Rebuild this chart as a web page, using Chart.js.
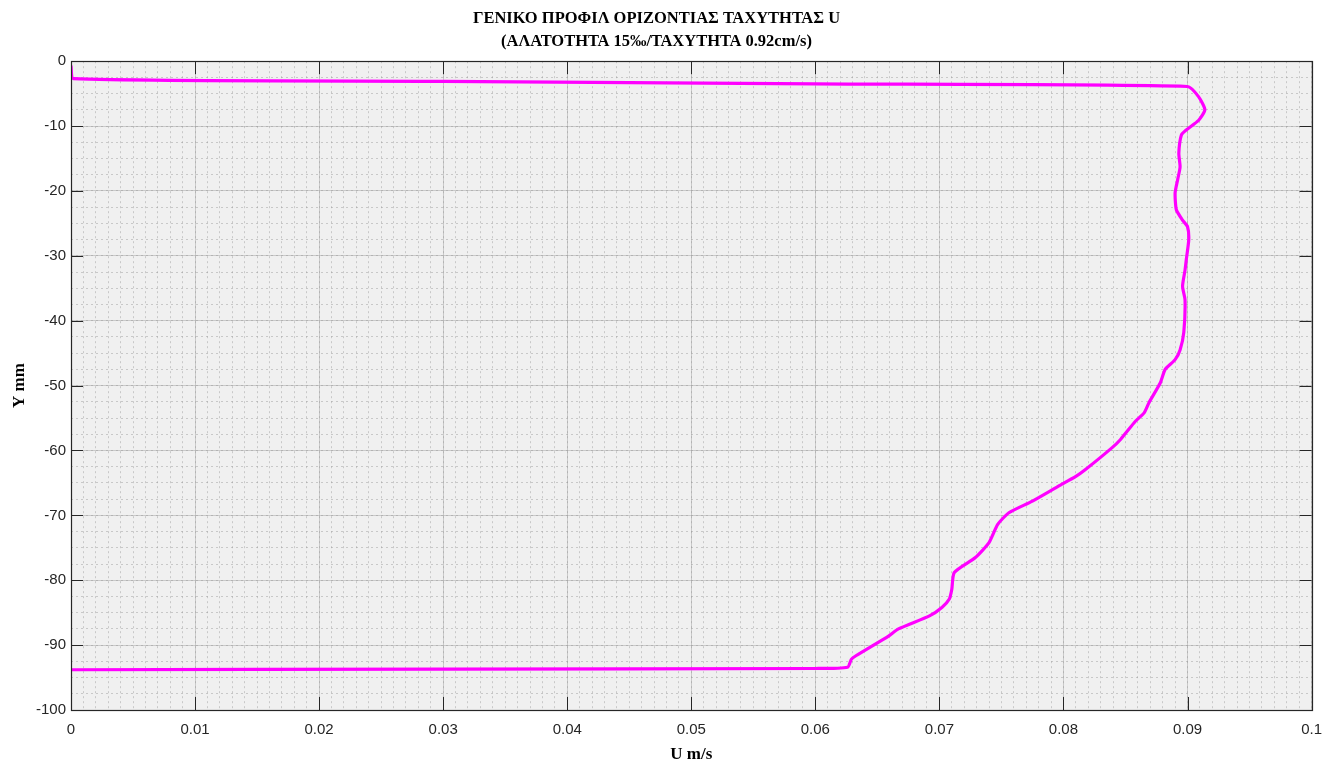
<!DOCTYPE html>
<html>
<head>
<meta charset="utf-8">
<script src="https://cdn.jsdelivr.net/npm/chart.js@4/dist/chart.umd.min.js"></script>
<style>
  html, body { margin: 0; padding: 0; background: #ffffff; }
  #wrap { width: 1333px; height: 767px; }
</style>
</head>
<body>
<div id="wrap"><canvas id="c" width="1333" height="767"></canvas></div>
<script>
// Horizontal velocity profile U (m/s) against depth Y (mm)
const uValues = [
  0.0000, 0.0002, 0.0300, 0.0600, 0.0900, 0.0909, 0.0914, 0.0909, 0.0899, 0.0895,
  0.0893, 0.0894, 0.0892, 0.0890, 0.0891, 0.0896, 0.0900, 0.0901, 0.0899, 0.0898,
  0.0896, 0.0898, 0.0897, 0.0894, 0.0890, 0.0882, 0.0878, 0.0869, 0.0865, 0.0858,
  0.0846, 0.0839, 0.0818, 0.0810, 0.0796, 0.0775, 0.0756, 0.0747, 0.0740, 0.0729,
  0.0712, 0.0710, 0.0708, 0.0702, 0.0692, 0.0667, 0.0659, 0.0633, 0.0629, 0.0626,
  0.0600, 0.0300, 0.0000
];
const yValues = [
  -0.8, -2.7, -3.1, -3.5, -3.9, -5.5, -7.5, -9.1, -10.6, -11.4,
  -14.2, -16.3, -18.3, -20.3, -22.9, -24.5, -25.5, -27.5, -30.6, -32.2,
  -34.7, -36.8, -41.8, -44.5, -46.0, -47.5, -49.6, -52.6, -54.2, -55.5,
  -58.3, -59.6, -62.9, -64.0, -65.5, -67.8, -69.6, -71.4, -74.2, -76.5,
  -78.8, -81.4, -82.9, -84.2, -85.5, -87.5, -88.6, -91.6, -92.2, -93.4,
  -93.6, -93.7, -93.8
];

const xTickValues = [0, 0.01, 0.02, 0.03, 0.04, 0.05, 0.06, 0.07, 0.08, 0.09, 0.1];
const xTickLabels = ['0', '0.01', '0.02', '0.03', '0.04', '0.05', '0.06', '0.07', '0.08', '0.09', '0.1'];
const yTickValues = [0, -10, -20, -30, -40, -50, -60, -70, -80, -90, -100];
const yTickLabels = ['0', '-10', '-20', '-30', '-40', '-50', '-60', '-70', '-80', '-90', '-100'];

const titleLines = ['ΓΕΝΙΚΟ ΠΡΟΦΙΛ ΟΡΙΖΟΝΤΙΑΣ ΤΑΧΥΤΗΤΑΣ U', '(ΑΛΑΤΟΤΗΤΑ 15‰/ΤΑΧΥΤΗΤΑ 0.92cm/s)'];
const xAxisTitle = 'U m/s';
const yAxisTitle = 'Y mm';

const profilePoints = uValues.map((u, i) => ({ x: u, y: yValues[i] }));

const AXIS_COLOR = '#262626';
const GRID_COLOR = 'rgba(150,150,150,0.42)';
const MINOR_COLOR = 'rgba(150,150,150,0.45)';

// Light plot background
const plotBackground = {
  id: 'plotBackground',
  beforeDraw(chart) {
    const { ctx, chartArea: a } = chart;
    ctx.save();
    ctx.fillStyle = '#f0f0f0';
    ctx.fillRect(a.left, a.top, a.right - a.left, a.bottom - a.top);
    ctx.restore();
  }
};

// Box outline and inward tick marks on all four sides
const boxTicks = {
  id: 'boxTicks',
  afterDatasetsDraw(chart) {
    const { ctx, chartArea: a, scales } = chart;
    ctx.save();
    ctx.strokeStyle = AXIS_COLOR;
    ctx.lineWidth = 1;
    ctx.beginPath();
    xTickValues.forEach(v => {
      const px = Math.round(scales.x.getPixelForValue(v)) + 0.5;
      ctx.moveTo(px, a.bottom); ctx.lineTo(px, a.bottom - 13);
      ctx.moveTo(px, a.top); ctx.lineTo(px, a.top + 13);
    });
    yTickValues.forEach(v => {
      const py = Math.round(scales.y.getPixelForValue(v)) + 0.5;
      ctx.moveTo(a.left, py); ctx.lineTo(a.left + 12, py);
      ctx.moveTo(a.right, py); ctx.lineTo(a.right - 12, py);
    });
    ctx.stroke();
    ctx.lineWidth = 1.2;
    ctx.strokeRect(Math.round(a.left) + 0.5, Math.round(a.top) + 0.5,
      Math.round(a.right - a.left), Math.round(a.bottom - a.top));
    ctx.restore();
  }
};

new Chart(document.getElementById('c'), {
  type: 'scatter',
  data: {
    datasets: [{
      data: profilePoints,
      showLine: true,
      borderColor: '#ff00ff',
      borderWidth: 3.2,
      pointRadius: 0,
      tension: 0.2,
      borderJoinStyle: 'round',
      borderCapStyle: 'round',
      xAxisID: 'x',
      yAxisID: 'y'
    }]
  },
  options: {
    responsive: false,
    animation: false,
    events: [],
    layout: { padding: { left: 0, right: 20, top: 0, bottom: 0 } },
    plugins: {
      legend: { display: false },
      tooltip: { enabled: false },
      title: {
        display: true,
        text: titleLines,
        color: '#000000',
        font: { family: '"Liberation Serif", "Times New Roman", serif', size: 16.5, weight: 'bold', lineHeight: 1.4 },
        padding: { top: 7, bottom: 8 }
      }
    },
    scales: {
      xm: {
        type: 'linear', position: 'bottom', min: 0, max: 0.1,
        afterFit(s) { s.height = 0; },
        ticks: { display: false, stepSize: 0.001, autoSkip: false },
        grid: { color: MINOR_COLOR, lineWidth: 1, drawTicks: false },
        border: { display: false, dash: [2, 3] }
      },
      ym: {
        type: 'linear', position: 'left', min: -100, max: 0,
        afterFit(s) { s.width = 0; },
        ticks: { display: false, stepSize: 2.5, autoSkip: false },
        grid: { color: MINOR_COLOR, lineWidth: 1, drawTicks: false },
        border: { display: false, dash: [2, 3] }
      },
      x: {
        type: 'linear', position: 'bottom', min: 0, max: 0.1,
        afterFit(s) { s.height = 57; },
        afterBuildTicks(s) { s.ticks = xTickValues.map(v => ({ value: v })); },
        ticks: {
          autoSkip: false, maxRotation: 0, padding: 11,
          color: AXIS_COLOR,
          font: { family: '"Liberation Sans", Arial, sans-serif', size: 15 },
          callback(v, i) { return xTickLabels[i]; }
        },
        grid: { color: GRID_COLOR, lineWidth: 1, drawTicks: false },
        border: { display: false },
        title: {
          display: true, text: xAxisTitle, color: '#000000',
          font: { family: '"Liberation Serif", "Times New Roman", serif', size: 17, weight: 'bold' },
          padding: { top: 0, bottom: 2 }
        }
      },
      y: {
        type: 'linear', position: 'left', min: -100, max: 0,
        afterFit(s) { s.width = 71; },
        afterBuildTicks(s) { s.ticks = yTickValues.map(v => ({ value: v })); },
        ticks: {
          autoSkip: false, padding: 5,
          color: AXIS_COLOR,
          font: { family: '"Liberation Sans", Arial, sans-serif', size: 15 },
          callback(v, i) { return yTickLabels[i]; }
        },
        grid: { color: GRID_COLOR, lineWidth: 1, drawTicks: false },
        border: { display: false },
        title: {
          display: true, text: yAxisTitle, color: '#000000',
          font: { family: '"Liberation Serif", "Times New Roman", serif', size: 17, weight: 'bold' },
          padding: { top: 9, bottom: 0 }
        }
      }
    }
  },
  plugins: [plotBackground, boxTicks]
});
</script>
</body>
</html>
